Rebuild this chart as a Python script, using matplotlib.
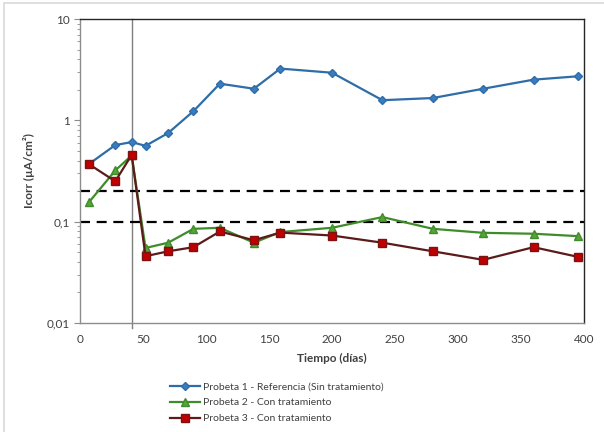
import matplotlib.pyplot as plt
from matplotlib.patches import Rectangle
from matplotlib.ticker import LogLocator, FixedLocator, NullFormatter

plt.rcParams['font.family'] = ['Lato', 'DejaVu Sans']

# Data
dias = [7, 28, 41, 52, 70, 90, 111, 138, 159, 200, 240, 280, 320, 360, 395]
probeta1 = [0.37, 0.57, 0.61, 0.56, 0.75, 1.23, 2.3, 2.05, 3.24, 2.95, 1.58, 1.66, 2.05, 2.52, 2.72]
probeta2 = [0.155, 0.32, 0.45, 0.055, 0.062, 0.085, 0.087, 0.062, 0.079, 0.087, 0.111, 0.085, 0.0776, 0.076, 0.072]
probeta3 = [0.37, 0.25, 0.456, 0.0456, 0.051, 0.056, 0.080, 0.0656, 0.078, 0.073, 0.062, 0.051, 0.042, 0.056, 0.045]
umbrales = [0.2, 0.1]
dia_tratamiento = 41

fig = plt.figure(figsize=(6.04, 4.32), dpi=100)
fig.patch.set_facecolor("white")
fig.patches.append(Rectangle((4 / 604, -0.05), 1.2, 1.0 - 3 / 432 + 0.05,
                             transform=fig.transFigure, fill=False,
                             edgecolor="#d9d9d9", lw=1.2))
ax = fig.add_axes([80 / 604, 1 - 323 / 432, 504 / 604, 304 / 432])

ax.axvline(dia_tratamiento, ymin=-0.015, ymax=1, color="#7f7f7f", lw=1.0,
           clip_on=False, zorder=1)
for u in umbrales:
    ax.axhline(u, color="black", lw=1.6, ls=(0, (4.5, 3)), zorder=2)

ax.plot(dias, probeta1, color="#2e6da8", lw=1.6, marker="D", ms=4.5,
        mfc="#3a7cc0", mec="#2e6da8", label="Probeta 1 - Referencia (Sin tratamiento)", zorder=5)
ax.plot(dias, probeta2, color="#3f8c2a", lw=1.6, marker="^", ms=6,
        mfc="#5aa33a", mec="#3f8c2a", label="Probeta 2 - Con tratamiento", zorder=4)
ax.plot(dias, probeta3, color="#5c1a1a", lw=1.6, marker="s", ms=6,
        mfc="#c00000", mec="#7a1414", label="Probeta 3 - Con tratamiento", zorder=6)

ax.set_yscale("log")
ax.set_ylim(0.01, 10)
ax.set_xlim(0, 400)
ax.xaxis.set_major_locator(FixedLocator([0, 50, 100, 150, 200, 250, 300, 350, 400]))
ax.yaxis.set_major_locator(FixedLocator([0.01, 0.1, 1, 10]))
ax.yaxis.set_minor_locator(LogLocator(base=10, subs=range(2, 10)))
ax.yaxis.set_minor_formatter(NullFormatter())
ax.set_yticklabels(["0,01", "0,1", "1", "10"])

for s in ["left", "bottom"]:
    ax.spines[s].set_color("#8c8c8c")
for s in ["top", "right"]:
    ax.spines[s].set_color("#262626")
for s in ax.spines.values():
    s.set_linewidth(1.0)

ax.tick_params(axis="x", length=0, pad=8, labelsize=8.5, colors="#404040")
ax.tick_params(axis="y", which="major", length=4, direction="out", color="#8c8c8c",
               labelsize=8.5, labelcolor="#404040")
ax.tick_params(axis="y", which="minor", length=2.5, direction="out", color="#8c8c8c")

ax.set_xlabel("Tiempo (días)", fontsize=8.5, fontweight="bold", color="#404040", labelpad=6)
ax.set_ylabel("Icorr (µA/cm²)", fontsize=8.5, fontweight="bold", color="#404040", labelpad=8)

handles, labels = ax.get_legend_handles_labels()
fig.legend(handles, labels, loc="upper left", bbox_to_anchor=(170 / 604, 1 - 382 / 432),
           frameon=False, fontsize=7.5, handlelength=2.9, handletextpad=0.25,
           labelspacing=0.65, labelcolor="#404040", borderaxespad=0, borderpad=0)

fig.savefig("out.png", dpi=100)
